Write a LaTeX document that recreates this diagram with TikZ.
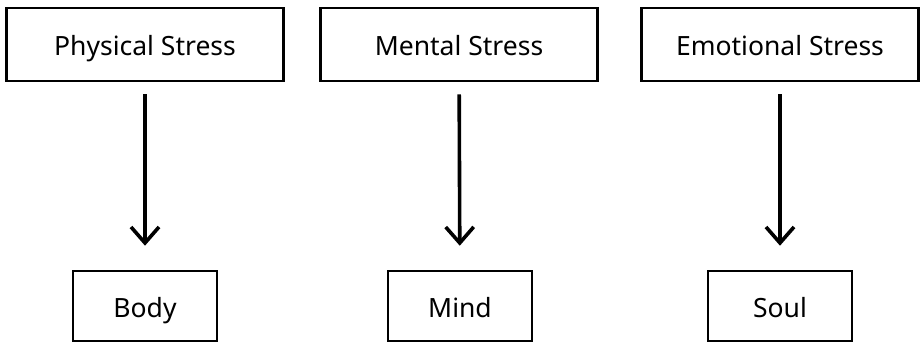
\documentclass[tikz,border=0pt]{standalone}
\usepackage{fontspec}
\setmainfont{Noto Sans}
\usetikzlibrary{arrows.meta}

\begin{document}
\begin{tikzpicture}[x=1pt, y=1pt,
  stressbox/.style = {draw, line width = 2.6pt, minimum width = 277pt, minimum height = 73pt, inner sep = 0pt, text depth = 4pt, text height = 26pt, font = \fontsize{26.5}{31}\selectfont},
  partbox/.style = {draw, line width = 2.6pt, minimum width = 144pt, minimum height = 70pt, inner sep = 0pt, text depth = 4pt, text height = 26pt, font = \fontsize{26.5}{31}\selectfont},
  leadsto/.style = {line width = 3.6pt, -{Straight Barb[length = 16pt, width = 28pt]}, shorten < = 12pt, shorten > = 24pt}]
\useasboundingbox (0,0) rectangle (921,-343);

\def\yTop{-44.5}
\def\yBottom{-306}

%stress boxes
\node[stressbox] (physical) at (145,\yTop) {Physical Stress};
\node[stressbox] (mental) at (459,\yTop) {Mental Stress};
\node[stressbox] (emotional) at (780,\yTop) {Emotional Stress};

%labels
\node[partbox] (body) at (145,\yBottom) {Body};
\node[partbox] (mind) at (460,\yBottom) {Mind};
\node[partbox] (soul) at (780,\yBottom) {Soul};

%draw edges
\draw[leadsto] (physical) -- (body);
\draw[leadsto] (mental) -- (mind);
\draw[leadsto] (emotional) -- (soul);

\end{tikzpicture}
\end{document}
